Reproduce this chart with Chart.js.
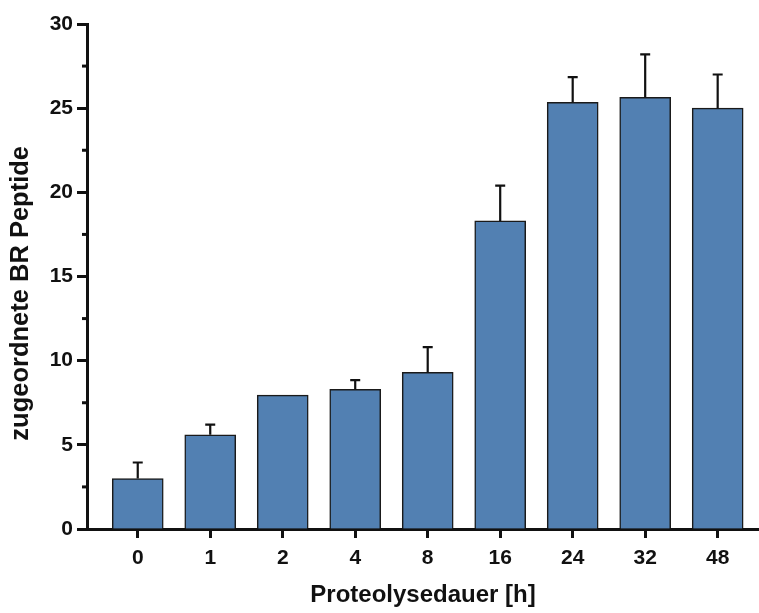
<!DOCTYPE html>
<html>
<head>
<meta charset="utf-8">
<script src="https://cdn.jsdelivr.net/npm/chart.js@4/dist/chart.umd.min.js"></script>
<style>
  html, body { margin: 0; padding: 0; background: #fff; }
  #wrap { width: 759px; height: 613px; }
</style>
</head>
<body>
<div id="wrap"><canvas id="chart" width="759" height="613"></canvas></div>
<script>
const labels = ["0", "1", "2", "4", "8", "16", "24", "32", "48"];
const means = [3.0, 5.6, 7.95, 8.3, 9.3, 18.3, 25.35, 25.65, 25.0];
const errTop = [3.95, 6.2, 7.95, 8.85, 10.8, 20.4, 26.85, 28.2, 27.0];
const yTicks = [0, 5, 10, 15, 20, 25, 30];
const yTitle = 'zugeordnete BR Peptide';
const xTitle = 'Proteolysedauer [h]';

const font = "'Liberation Sans', Arial, sans-serif";

// error bars (upper half only), minor ticks on y, and the y title
const extras = {
    id: 'extras',
    afterDatasetsDraw(chart) {
        const ctx = chart.ctx;
        const x = chart.scales.x, y = chart.scales.y;
        ctx.save();
        ctx.strokeStyle = '#111';
        ctx.lineWidth = 2.2;
        means.forEach((m, i) => {
            if (errTop[i] <= m) return;
            const px = x.getPixelForValue(i);
            const y0 = y.getPixelForValue(m);
            const y1 = y.getPixelForValue(errTop[i]);
            ctx.beginPath();
            ctx.moveTo(px, y0);
            ctx.lineTo(px, y1);
            ctx.moveTo(px - 5, y1);
            ctx.lineTo(px + 5, y1);
            ctx.stroke();
        });
        ctx.lineWidth = 3;
        for (let v = 2.5; v < 30; v += 5) {
            const py = y.getPixelForValue(v);
            ctx.beginPath();
            ctx.moveTo(y.right, py);
            ctx.lineTo(y.right - 5, py);
            ctx.stroke();
        }
        // y title, sitting a bit below the axis middle like the original
        ctx.translate(21, y.getPixelForValue(14.0));
        ctx.rotate(-Math.PI / 2);
        ctx.fillStyle = '#111';
        ctx.font = "bold 25.5px " + font;
        ctx.textAlign = 'center';
        ctx.textBaseline = 'middle';
        ctx.fillText(yTitle, 0, 0);
        ctx.restore();
    }
};

new Chart(document.getElementById('chart'), {
    type: 'bar',
    data: {
        datasets: [{
            data: means.map((v, i) => ({ x: i, y: v })),
            backgroundColor: '#5280b2',
            borderColor: '#1a1a1a',
            borderWidth: 1.5,
            borderSkipped: 'bottom',
            barThickness: 51
        }]
    },
    options: {
        responsive: false,
        animation: false,
        layout: { padding: { top: 24, right: 0, left: 0, bottom: 0 } },
        plugins: { legend: { display: false }, tooltip: { enabled: false } },
        scales: {
            x: {
                type: 'linear',
                offset: false,
                min: -0.7,
                max: 8.57,
                afterBuildTicks: s => { s.ticks = labels.map((_, i) => ({ value: i })); },
                afterFit: s => { s.height = 84; },
                ticks: {
                    callback: v => labels[v],
                    color: '#111',
                    padding: 8,
                    font: { family: font, size: 21, weight: 'bold' }
                },
                grid: { display: true, offset: false, drawOnChartArea: false, drawTicks: true, tickLength: 9, tickWidth: 3, tickColor: '#111' },
                border: { display: true, color: '#111', width: 3 },
                title: {
                    display: true,
                    text: xTitle,
                    color: '#111',
                    padding: { top: 4, bottom: 3 },
                    font: { family: font, size: 24, weight: 'bold' }
                }
            },
            y: {
                min: 0,
                max: 30,
                afterBuildTicks: s => { s.ticks = yTicks.map(v => ({ value: v })); },
                afterFit: s => { s.width = 87; },
                ticks: {
                    color: '#111',
                    padding: 4,
                    font: { family: font, size: 21, weight: 'bold' }
                },
                grid: { drawOnChartArea: false, drawTicks: true, tickLength: 10, tickWidth: 3, tickColor: '#111' },
                border: { display: true, color: '#111', width: 3 }
            }
        }
    },
    plugins: [extras]
});
</script>
</body>
</html>
